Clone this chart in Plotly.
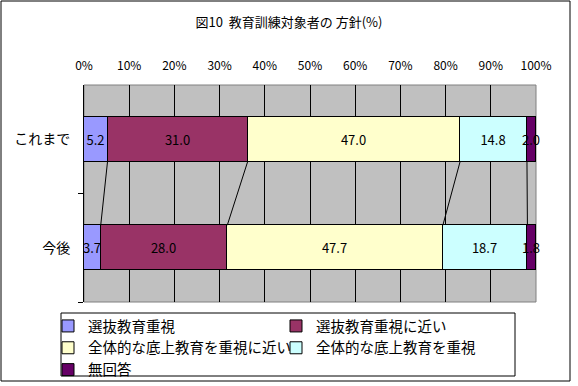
import plotly.graph_objects as go

categories = ["これまで", "今後"]
series_names = ["選抜教育重視", "選抜教育重視に近い", "全体的な底上教育を重視に近い", "全体的な底上教育を重視", "無回答"]
values_before = [5.2, 31.0, 47.0, 14.8, 2.0]
values_after = [3.7, 28.0, 47.7, 18.7, 1.8]
colors = ["#9999FF", "#993366", "#FFFFCC", "#CCFFFF", "#660066"]
x_ticks = [0, 10, 20, 30, 40, 50, 60, 70, 80, 90, 100]
x_tick_labels = ["0%", "10%", "20%", "30%", "40%", "50%", "60%", "70%", "80%", "90%", "100%"]
title_text = "図10  教育訓練対象者の 方針(%)"

FONT = "Noto Sans CJK JP"
W, H = 578, 386
L, R, T, B = 84, 42, 85, 84
PW, PH = W - L - R, H - T - B
BAR_W = 0.415

def px(x):
    return (x - L) / PW

def py(y):
    return (H - B - y) / PH

ypos = [0, 1]
fig = go.Figure()
for i, name in enumerate(series_names):
    vals = [values_before[i], values_after[i]]
    fig.add_trace(go.Bar(
        orientation="h", x=vals, y=ypos, name=name, width=BAR_W,
        marker=dict(color=colors[i], line=dict(color="black", width=1)),
        text=[f"{v:.1f}" for v in vals], textposition="inside",
        insidetextanchor="middle", constraintext="none", cliponaxis=False,
        textfont=dict(color="black", size=13, family=FONT),
        legend="legend" if i % 2 == 0 else "legend2",
        hoverinfo="skip",
    ))

# series lines between cumulative boundaries
cum_b, cum_a = 0, 0
for i in range(len(series_names) - 1):
    cum_b += values_before[i]
    cum_a += values_after[i]
    fig.add_trace(go.Scatter(
        x=[cum_b, cum_a], y=[ypos[0] + BAR_W / 2, ypos[1] - BAR_W / 2],
        mode="lines", line=dict(color="black", width=1),
        showlegend=False, hoverinfo="skip",
    ))

fig.update_layout(
    width=W, height=H, margin=dict(l=L, r=R, t=T, b=B, autoexpand=False),
    paper_bgcolor="white", plot_bgcolor="#C0C0C0",
    barmode="stack", bargap=0,
    font=dict(family=FONT, color="black", size=13),
    title=dict(text=title_text, x=0.5, xanchor="center", y=1 - 22 / H, yanchor="middle",
               font=dict(size=13, family=FONT)),
    xaxis=dict(side="top", range=[0, 100], tickvals=x_ticks, ticktext=x_tick_labels,
               showgrid=True, gridcolor="black", gridwidth=1, zeroline=False,
               showline=False, ticks="", ticklabelstandoff=12,
               tickfont=dict(size=12, family=FONT)),
    yaxis=dict(range=[1.5, -0.5], tickvals=ypos, ticktext=categories,
               showgrid=False, zeroline=False, showline=True, linecolor="black", linewidth=1,
               ticks="", ticklabelstandoff=10,
               minor=dict(tickvals=[0.5, 1.5], ticks="outside", ticklen=5, tickcolor="black"),
               tickfont=dict(size=14, family=FONT)),
    legend=dict(x=px(48), y=py(310), xanchor="left", yanchor="top", bgcolor="rgba(0,0,0,0)",
                font=dict(size=14.5, family=FONT), traceorder="normal"),
    legend2=dict(x=px(276), y=py(310), xanchor="left", yanchor="top", bgcolor="rgba(0,0,0,0)",
                 font=dict(size=14.5, family=FONT), traceorder="normal"),
    shapes=[
        dict(type="rect", xref="paper", yref="paper", x0=0, x1=1, y0=0, y1=1,
             line=dict(color="#808080", width=1), layer="below"),
        dict(type="rect", xref="paper", yref="paper", x0=px(61), x1=px(515), y0=py(376), y1=py(313),
             line=dict(color="black", width=1)),
        dict(type="rect", xref="paper", yref="paper", x0=px(1), x1=px(570), y0=py(381), y1=py(1),
             line=dict(color="black", width=1)),
    ],
)

fig.write_html(
    "out.html",
    config={"displayModeBar": False},
    post_script="document.body.style.margin='0';document.body.style.padding='0';document.body.style.overflow='hidden';",
)
